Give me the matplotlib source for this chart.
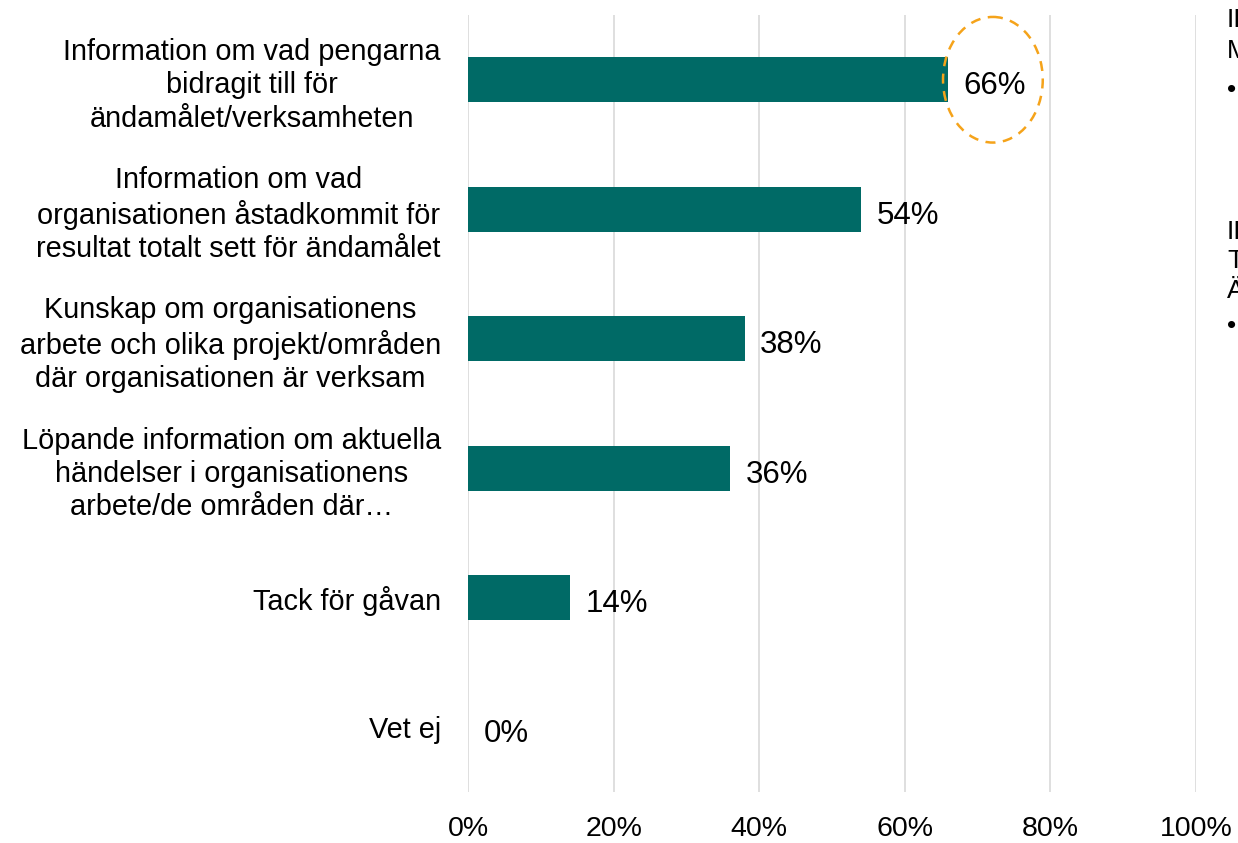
import matplotlib.pyplot as plt
from matplotlib.patches import Ellipse

plt.rcParams['font.family'] = ['Liberation Sans', 'DejaVu Sans']

# data ---------------------------------------------------------------
categories = [
    "Information om vad pengarna\nbidragit till för\nändamålet/verksamheten",
    "Information om vad\norganisationen åstadkommit för\nresultat totalt sett för ändamålet",
    "Kunskap om organisationens\narbete och olika projekt/områden\ndär organisationen är verksam",
    "Löpande information om aktuella\nhändelser i organisationens\narbete/de områden där…",
    "Tack för gåvan",
    "Vet ej",
]
values = [66, 54, 38, 36, 14, 0]
xticks = [0, 20, 40, 60, 80, 100]
side_notes = [("II", 0.976), ("M", 0.94), ("•", 0.893), ("II", 0.725), ("T", 0.69), ("Ä", 0.655), ("•", 0.613)]

bar_color = "#006A66"
grid_color = "#D9D9D9"
circle_color = "#F5A31A"

# figure -------------------------------------------------------------
fig = plt.figure(figsize=(12.38, 8.43), dpi=100)
ax = fig.add_axes([468 / 1238, 1 - 792 / 843, (1196 - 468) / 1238, (792 - 15) / 843])

y = list(range(len(categories)))
ax.barh(y, values, height=0.35, color=bar_color, zorder=3)
for yi, v in zip(y, values):
    ax.text(v + 2.1, yi + 0.05, f"{v}%", va="center", ha="left", fontsize=22.5, zorder=4)

ax.set_xlim(0, 100)
ax.set_ylim(len(categories) - 0.5, -0.5)
ax.set_xticks(xticks)
ax.set_xticklabels([f"{t}%" for t in xticks], fontsize=20.5)
ax.set_yticks(y)
ax.set_yticklabels(categories, fontsize=20.8, multialignment="center", linespacing=1.24)
ax.tick_params(axis="x", length=0, pad=17)
ax.tick_params(axis="y", length=0, pad=19.5)
ax.grid(axis="x", color=grid_color, linewidth=1.2, zorder=0)
for s in ax.spines.values():
    s.set_visible(False)

# dashed highlight around the top value
ax.add_patch(Ellipse((72.1, 0), width=13.7, height=0.97, fill=False,
                     edgecolor=circle_color, linestyle=(0, (4, 3)), linewidth=1.8,
                     zorder=5, clip_on=False))

# clipped side notes at right edge
for txt, yy in side_notes:
    fig.text(1227 / 1238, yy, txt, fontsize=19, va="center", ha="left")

fig.savefig("out.png", dpi=100)
